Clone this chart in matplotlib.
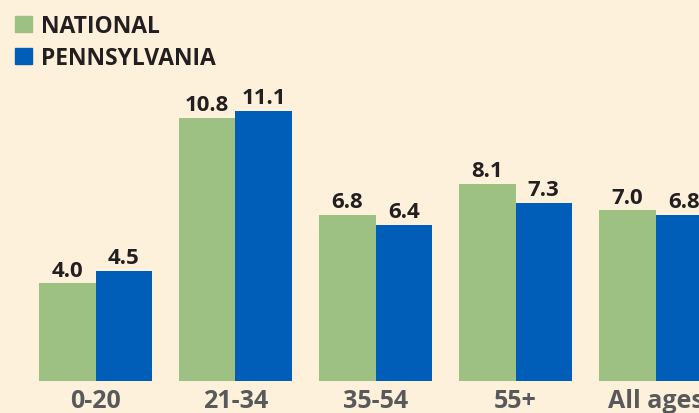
import matplotlib.pyplot as plt
from matplotlib.patches import Patch
import numpy as np

plt.rcParams["font.family"] = ["Open Sans", "DejaVu Sans"]

categories = ["0-20", "21-34", "35-54", "55+", "All ages"]
national = [4.0, 10.8, 6.8, 8.1, 7.0]
pennsylvania = [4.5, 11.1, 6.4, 7.3, 6.8]

bg = "#fef1dc"
green = "#9dc183"
blue = "#005eb8"

fig = plt.figure(figsize=(6.99, 4.14), dpi=100, facecolor=bg)
ax = fig.add_axes([0, 32.5 / 414, 1, 381.5 / 414])
ax.set_facecolor(bg)

x = np.arange(len(categories))
w = 56.5 / 140
b1 = ax.bar(x - w / 2, national, w, color=green)
b2 = ax.bar(x + w / 2, pennsylvania, w, color=blue)

for bars in (b1, b2):
    ax.bar_label(bars, fmt="%.1f", padding=2, fontsize=16, fontweight="bold",
                 color="#231f20")

ax.set_xlim(-95.5 / 140, (699 - 95.5) / 140)
ax.set_ylim(0, 381.5 / 24.3)
ax.set_xticks(x)
ax.set_xticklabels(categories, fontsize=18, fontweight="bold", color="#58595b")
ax.tick_params(axis="x", length=0, pad=5.5)
ax.set_yticks([])
for s in ax.spines.values():
    s.set_visible(False)

handles = [Patch(color=green, label="NATIONAL"), Patch(color=blue, label="PENNSYLVANIA")]
leg = fig.legend(handles=handles, loc="upper left", bbox_to_anchor=(0.0, 1.0),
                 frameon=False, prop={"size": 16.5, "weight": "bold"},
                 handlelength=0.75, handleheight=0.75, handletextpad=0.4,
                 labelspacing=0.35, borderaxespad=0.3, borderpad=0.35)
for t in leg.get_texts():
    t.set_color("#231f20")

fig.savefig("out.png", dpi=100, facecolor=bg)
